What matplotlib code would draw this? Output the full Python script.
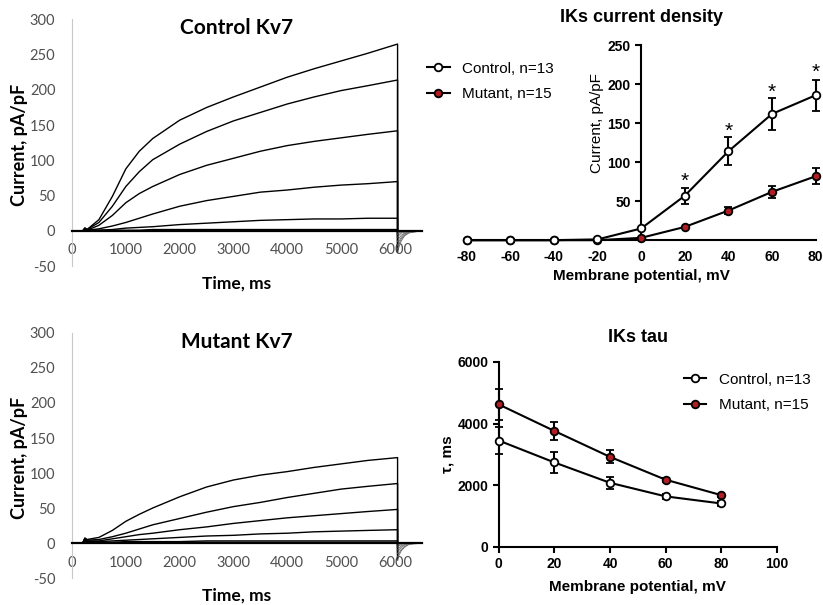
import numpy as np
import matplotlib
matplotlib.use("Agg")
import matplotlib.pyplot as plt
from matplotlib.lines import Line2D

plt.rcParams["axes.unicode_minus"] = False

# current traces, sampled from the recordings (pA/pF)
t_step = [0, 200, 240, 280, 500, 750, 1000, 1250, 1500, 2000, 2500, 3000, 3500, 4000, 4500, 5000, 5500, 6050]
t_tail = [6050, 6080, 6120, 6180, 6260, 6400, 6500]

ctrl_traces = [
    [0, 0, 4, 2, 16, 49, 88, 113, 131, 157, 175, 190, 204, 218, 230, 241, 252, 265],
    [0, 0, 4, 2, 12, 35, 63, 84, 101, 123, 141, 156, 168, 180, 190, 199, 206, 214],
    [0, 0, 4, 1, 8, 22, 40, 53, 63, 80, 93, 103, 113, 121, 127, 132, 137, 142],
    [0, 0, 3, 1, 3, 7, 12, 18, 24, 35, 43, 49, 55, 58, 62, 65, 67, 70],
    [0, 0, 3, 1, 1, 2, 4, 5, 6, 9, 11, 13, 15, 16, 17, 17, 18, 18],
    [0, 0, 3, 1, 1, 1, 1, 1, 2, 2, 2, 2, 2, 2, 2, 2, 2, 2],
    [0, 0, 2, 0, 0, 0, 0, 0, 1, 1, 1, 1, 1, 1, 1, 1, 1, 1],
    [0, 0, 2, 0, 0, 0, 0, 0, 0, 0, 0, 0, 0, 0, 0, 0, 0, 0],
]
ctrl_tails = [
    [-30, -22, -14, -7, -3, -1, 0],
    [-26, -18, -11, -6, -2, -1, 0],
    [-21, -14, -9, -4, -2, 0, 0],
    [-15, -10, -6, -3, -1, 0, 0],
    [-9, -6, -3, -2, -1, 0, 0],
    [-5, -3, -2, -1, 0, 0, 0],
    [-3, -2, -1, 0, 0, 0, 0],
    [-1, 0, 0, 0, 0, 0, 0],
]

mut_traces = [
    [0, 0, 7, 5, 8, 18, 31, 41, 50, 66, 80, 90, 97, 102, 108, 113, 118, 122],
    [0, 0, 7, 4, 5, 9, 14, 20, 26, 35, 44, 52, 58, 65, 71, 77, 81, 85],
    [0, 0, 6, 3, 3, 6, 9, 12, 14, 19, 23, 28, 32, 36, 39, 42, 45, 48],
    [0, 0, 6, 2, 2, 3, 4, 5, 6, 8, 10, 11, 13, 14, 16, 17, 18, 19],
    [0, 0, 5, 2, 1, 1, 2, 2, 2, 2, 3, 3, 3, 3, 3, 3, 3, 3],
    [0, 0, 5, 1, 0, 0, 0, 1, 1, 1, 1, 1, 1, 1, 1, 1, 1, 1],
    [0, 0, 4, 0, 0, 0, 0, 0, 0, 0, 0, 0, 0, 0, 0, 0, 0, 0],
]
mut_tails = [
    [-24, -17, -11, -6, -2, -1, 0],
    [-20, -14, -9, -5, -2, 0, 0],
    [-15, -10, -6, -3, -1, 0, 0],
    [-10, -7, -4, -2, -1, 0, 0],
    [-6, -4, -2, -1, 0, 0, 0],
    [-3, -2, -1, 0, 0, 0, 0],
    [-1, 0, 0, 0, 0, 0, 0],
]

# I-V curve
iv_v = [-80, -60, -40, -20, 0, 20, 40, 60, 80]
iv_ctrl = [0, 0, 0, 1, 15, 57, 114, 162, 186]
iv_ctrl_err = [0, 0, 0, 0, 0, 10, 18, 20, 20]
iv_mut = [0, 0, 0, 0, 3, 17, 38, 62, 82]
iv_mut_err = [0, 0, 0, 0, 0, 0, 5, 8, 10]
star_v = [20, 40, 60, 80]
star_y = [76, 140, 190, 215]

# tau
tau_v = [0, 20, 40, 60, 80]
tau_ctrl = [3450, 2740, 2080, 1640, 1410]
tau_ctrl_err = [430, 340, 190, 80, 70]
tau_mut = [4620, 3760, 2920, 2180, 1680]
tau_mut_err = [490, 290, 210, 70, 50]

red = "#b01e23"
gp = "Liberation Sans"
cal = "Lato"

fig = plt.figure(figsize=(8.23, 6.05), dpi=100)


def trace_panel(rect, traces, tails, title):
    ax = fig.add_axes(rect)
    for tr, tl in zip(traces, tails):
        ax.plot(t_step + t_tail[:1], tr + tl[:1], color="black", lw=1.0)
        ax.plot(t_tail, tl, color="#6a6a6a", lw=0.6)
    ax.set_xlim(0, 6500)
    ax.set_ylim(-50, 300)
    ax.set_xticks(range(0, 7000, 1000))
    ax.set_yticks(range(-50, 350, 50))
    ax.spines["top"].set_visible(False)
    ax.spines["right"].set_visible(False)
    ax.spines["left"].set_color("#c8c8c8")
    ax.spines["left"].set_linewidth(0.8)
    ax.spines["bottom"].set_position(("data", 0))
    ax.spines["bottom"].set_linewidth(1.6)
    ax.tick_params(length=0, labelcolor="#505050", labelsize=10.5)
    ax.tick_params(axis="x", pad=9)
    ax.tick_params(axis="y", pad=12)
    for lb in ax.get_xticklabels() + ax.get_yticklabels():
        lb.set_family(cal)
    ax.text(0.47, 0.965, title, transform=ax.transAxes, ha="center", va="center",
            fontsize=15, fontweight="bold", family=cal)
    ax.set_ylabel("Current, pA/pF", fontsize=13, fontweight="bold", family=cal)
    ax.yaxis.set_label_coords(-0.127, 0.49)
    ax.text(0.47, -0.07, "Time, ms", transform=ax.transAxes, ha="center", va="center",
            fontsize=12.5, fontweight="bold", family=cal)
    return ax


trace_panel([0.0875, 0.560, 0.425, 0.408], ctrl_traces, ctrl_tails, "Control Kv7")
trace_panel([0.0875, 0.0446, 0.425, 0.405], mut_traces, mut_tails, "Mutant Kv7")


def gp_style(ax):
    ax.spines["top"].set_visible(False)
    ax.spines["right"].set_visible(False)
    for s in ("left", "bottom"):
        ax.spines[s].set_linewidth(1.5)
    ax.tick_params(direction="out", length=4, width=1.5, labelsize=10)
    for lb in ax.get_xticklabels() + ax.get_yticklabels():
        lb.set_family(gp)
        lb.set_fontweight("bold")


def series(ax, x, y, err, fc):
    ax.errorbar(x, y, yerr=err, color="black", lw=1.5, capsize=3, capthick=1.5,
                marker="o", ms=5.5, mfc=fc, mec="black", mew=1.3, clip_on=False,
                zorder=4 if fc == "white" else 3)


handles = [
    Line2D([], [], color="black", lw=1.5, marker="o", ms=5.5, mfc="white", mec="black", mew=1.3),
    Line2D([], [], color="black", lw=1.5, marker="o", ms=5.5, mfc=red, mec="black", mew=1.3),
]
labels = ["Control, n=13", "Mutant, n=15"]

# I-V panel
ax = fig.add_axes([0.567, 0.603, 0.424, 0.322])
series(ax, iv_v, iv_ctrl, iv_ctrl_err, "white")
series(ax, iv_v, iv_mut, iv_mut_err, red)
for v, y in zip(star_v, star_y):
    ax.text(v, y, "*", ha="center", va="center", fontsize=15, family=gp)
ax.set_xlim(-80, 80)
ax.set_ylim(0, 250)
ax.set_xticks(range(-80, 100, 20))
ax.set_yticks(range(50, 300, 50))
ax.spines["left"].set_position(("data", 0))
gp_style(ax)
ax.tick_params(axis="x", length=0, pad=7)
ax.set_title("IKs current density", fontsize=13, fontweight="bold", family=gp, pad=17)
ax.set_xlabel("Membrane potential, mV", fontsize=11, fontweight="bold", family=gp, labelpad=4)
ax.text(-20, 150, "Current, pA/pF", rotation=90, ha="center", va="center", fontsize=11, family=gp)
ax.legend(handles, labels, loc="center left", bbox_to_anchor=(-0.154, 0.815), frameon=False,
          prop={"family": gp, "size": 11}, handlelength=1.5, labelspacing=0.75)

# tau panel
ax = fig.add_axes([0.606, 0.0959, 0.338, 0.306])
series(ax, tau_v, tau_ctrl, tau_ctrl_err, "white")
series(ax, tau_v, tau_mut, tau_mut_err, red)
ax.set_xlim(0, 100)
ax.set_ylim(0, 6000)
ax.set_xticks(range(0, 120, 20))
ax.set_yticks(range(0, 8000, 2000))
gp_style(ax)
ax.set_title("IKs tau", fontsize=13, fontweight="bold", family=gp, pad=14)
ax.set_xlabel("Membrane potential, mV", fontsize=11, fontweight="bold", family=gp, labelpad=6)
ax.set_ylabel("τ, ms", fontsize=11, fontweight="bold", family=gp, labelpad=2)
ax.legend(handles, labels, loc="upper right", bbox_to_anchor=(1.17, 1.016), frameon=False,
          prop={"family": gp, "size": 11}, handlelength=1.5, labelspacing=0.75)

fig.savefig("out.png", dpi=100)
